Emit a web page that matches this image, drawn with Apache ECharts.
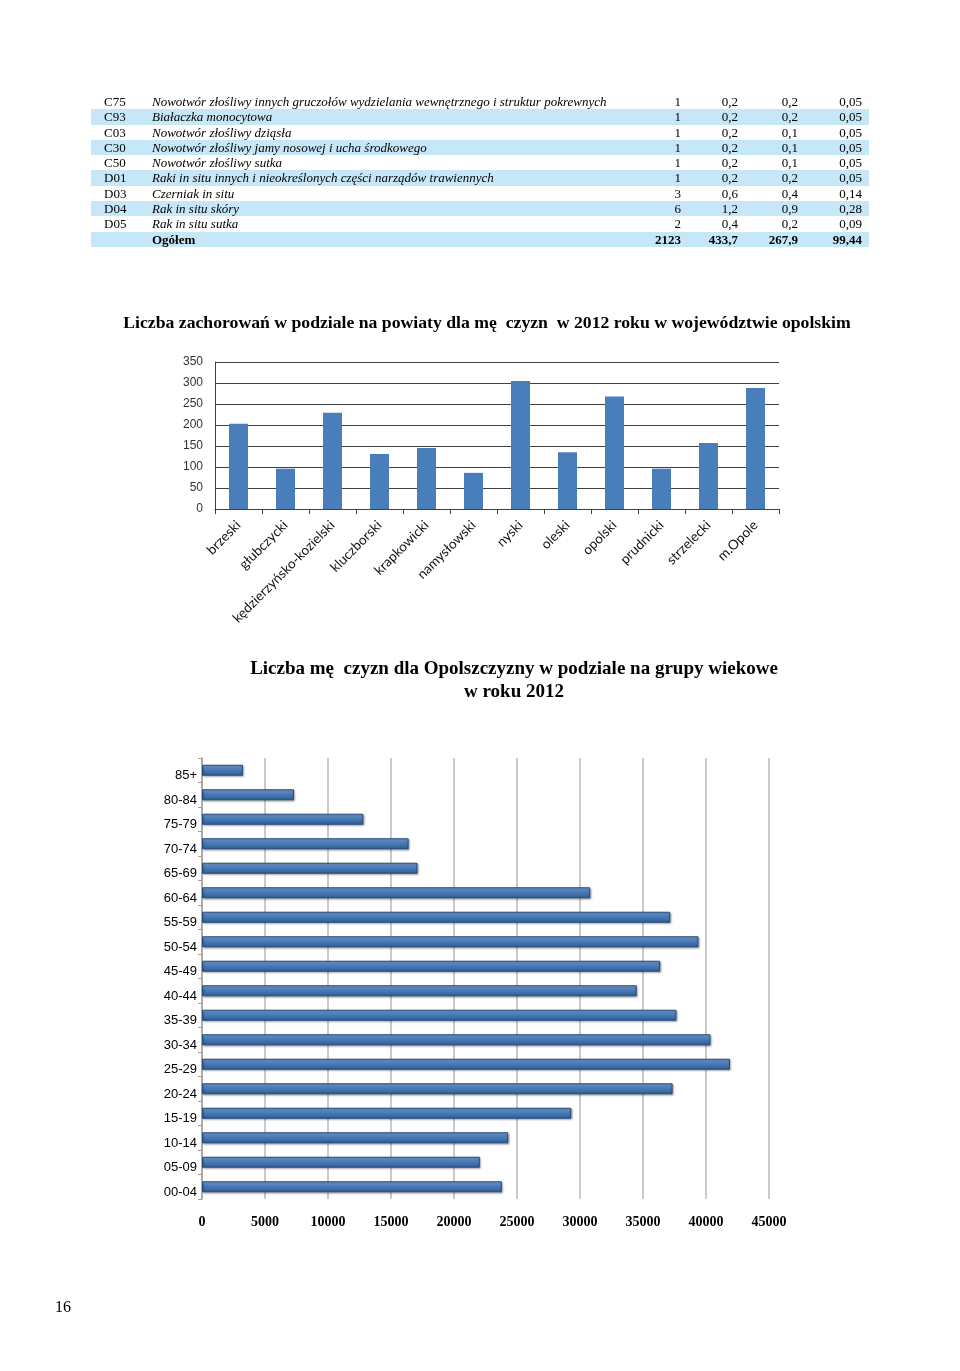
<!DOCTYPE html>
<html><head><meta charset="utf-8">
<script src="https://cdn.jsdelivr.net/npm/echarts@6/dist/echarts.min.js"></script>
<style>
html,body{margin:0;padding:0;background:#fff;}
#c{position:absolute;left:0;top:0;width:960px;height:1371px;}
#tbl{position:absolute;left:91px;top:94px;width:778px;font-family:"Liberation Serif","Times New Roman",serif;font-size:13px;color:#000;}
.row{position:relative;height:15.3px;line-height:15.3px;}
.row.alt{background:#c6e7f8;}
.row span{position:absolute;top:0;white-space:nowrap;}
.code{left:13px;}
.name{left:61px;font-style:italic;}
.n{text-align:right;}
.bold{font-weight:bold;font-style:normal;}
#pg{position:absolute;left:55px;top:1298px;font-family:"Liberation Serif",serif;font-size:16px;}
</style></head>
<body>
<div id="c"></div>
<div id="tbl"></div>
<div id="pg">16</div>
<script>
// ---- table data ----
const tableCodes = ['C75','C93','C03','C30','C50','D01','D03','D04','D05',''];
const tableNames = [
 'Nowotwór złośliwy innych gruczołów wydzielania wewnętrznego i struktur pokrewnych',
 'Białaczka monocytowa',
 'Nowotwór złośliwy dziąsła',
 'Nowotwór złośliwy jamy nosowej i ucha środkowego',
 'Nowotwór złośliwy sutka',
 'Raki in situ innych i nieokreślonych części narządów trawiennych',
 'Czerniak in situ',
 'Rak in situ skóry',
 'Rak in situ sutka',
 'Ogółem'];
const tableCol1 = ['1','1','1','1','1','1','3','6','2','2123'];
const tableCol2 = ['0,2','0,2','0,2','0,2','0,2','0,2','0,6','1,2','0,4','433,7'];
const tableCol3 = ['0,2','0,2','0,1','0,1','0,1','0,2','0,4','0,9','0,2','267,9'];
const tableCol4 = ['0,05','0,05','0,05','0,05','0,05','0,05','0,14','0,28','0,09','99,44'];

// ---- chart 1 data ----
const powiaty = ['brzeski','głubczycki','kędzierzyńsko-kozielski','kluczborski','krapkowicki','namysłowski','nyski','oleski','opolski','prudnicki','strzelecki','m.Opole'];
const powiatyValues = [203, 96, 229, 131, 145, 86, 305, 135, 268, 96, 157, 288];
const chart1Ticks = {min: 0, max: 350, interval: 50};

// ---- chart 2 data ----
const ageGroups = ['00-04','05-09','10-14','15-19','20-24','25-29','30-34','35-39','40-44','45-49','50-54','55-59','60-64','65-69','70-74','75-79','80-84','85+'];
const ageValues = [23800, 22050, 24300, 29300, 37350, 41900, 40350, 37650, 34500, 36350, 39400, 37150, 30800, 17100, 16400, 12800, 7300, 3250];
const chart2Ticks = {min: 0, max: 45000, interval: 5000};

const title1 = 'Liczba zachorowań w podziale na powiaty dla mę  czyzn  w 2012 roku w województwie opolskim';
const title2a = 'Liczba mę  czyzn dla Opolszczyzny w podziale na grupy wiekowe';
const title2b = 'w roku 2012';

// build table
const tbl = document.getElementById('tbl');
const rights = [590, 647, 707, 771];
tableNames.forEach((nm, i) => {
  const r = document.createElement('div');
  r.className = 'row' + (i % 2 === 1 ? ' alt' : '');
  const isTot = i === tableNames.length - 1;
  let h = '<span class="code">' + tableCodes[i] + '</span>';
  h += '<span class="name' + (isTot ? ' bold' : '') + '">' + nm + '</span>';
  [tableCol1, tableCol2, tableCol3, tableCol4].forEach((col, k) => {
    h += '<span class="n' + (isTot ? ' bold' : '') + '" style="right:' + (778 - rights[k]) + 'px">' + col[i] + '</span>';
  });
  r.innerHTML = h;
  tbl.appendChild(r);
});

const chart = echarts.init(document.getElementById('c'), null, {renderer: 'canvas'});
const barGrad = new echarts.graphic.LinearGradient(0, 0, 0, 1, [
  {offset: 0, color: '#86abdd'},
  {offset: 0.35, color: '#4f81bd'},
  {offset: 1, color: '#2f5c94'}
]);
chart.setOption({
  backgroundColor: '#fff',
  animation: false,
  graphic: [
    {type: 'text', x: 487, y: 323, style: {text: title1, textAlign: 'center', textVerticalAlign: 'middle', font: 'bold 17.7px "Liberation Serif", serif', fill: '#000'}},
    {type: 'text', x: 514, y: 669, style: {text: title2a, textAlign: 'center', textVerticalAlign: 'middle', font: 'bold 19px "Liberation Serif", serif', fill: '#000'}},
    {type: 'text', x: 514, y: 692, style: {text: title2b, textAlign: 'center', textVerticalAlign: 'middle', font: 'bold 19px "Liberation Serif", serif', fill: '#000'}}
  ],
  grid: [
    {left: 215, top: 362, width: 564, height: 147},
    {left: 202, top: 758, width: 567, height: 441}
  ],
  xAxis: [
    {type: 'category', gridIndex: 0, data: powiaty,
     axisLine: {lineStyle: {color: '#404040'}},
     axisTick: {show: true, length: 5, lineStyle: {color: '#404040'}},
     axisLabel: {rotate: 45, margin: 14, color: '#111', fontFamily: 'Lato', fontSize: 13.5, interval: 0}},
    {type: 'value', gridIndex: 1, min: chart2Ticks.min, max: chart2Ticks.max, interval: chart2Ticks.interval,
     axisLine: {show: false},
     axisTick: {show: false},
     splitLine: {show: true, lineStyle: {color: '#b8b8b8', width: 1.5}},
     axisLabel: {margin: 16, color: '#000', fontFamily: '"Liberation Serif", serif', fontWeight: 'bold', fontSize: 14,
       formatter: v => String(v)}}
  ],
  yAxis: [
    {type: 'value', gridIndex: 0, min: chart1Ticks.min, max: chart1Ticks.max, interval: chart1Ticks.interval,
     axisLine: {show: true, lineStyle: {color: '#404040'}},
     axisTick: {show: false},
     splitLine: {show: true, lineStyle: {color: '#404040', width: 1}},
     axisLabel: {margin: 12, color: '#333', fontFamily: '"Liberation Sans", Arial, sans-serif', fontSize: 12}},
    {type: 'category', gridIndex: 1, data: ageGroups,
     axisLine: {show: true, lineStyle: {color: '#a0a0a0', width: 1.5}},
     axisTick: {show: true, length: 4, inside: false, lineStyle: {color: '#b09a80'}},
     axisLabel: {margin: 5, verticalAlign: 'top', lineHeight: 11, color: '#000', fontFamily: '"Liberation Sans", Arial, sans-serif', fontSize: 13}}
  ],
  series: [
    {type: 'bar', xAxisIndex: 0, yAxisIndex: 0, data: powiatyValues, barWidth: 19,
     itemStyle: {color: '#4a7ebb'}},
    {type: 'bar', xAxisIndex: 1, yAxisIndex: 1, data: ageValues, barWidth: 11,
     itemStyle: {color: barGrad, borderColor: '#264d80', borderWidth: 1,
       shadowColor: 'rgba(0,0,0,0.35)', shadowBlur: 2, shadowOffsetX: 1, shadowOffsetY: 1}}
  ]
});
</script>
</body></html>
